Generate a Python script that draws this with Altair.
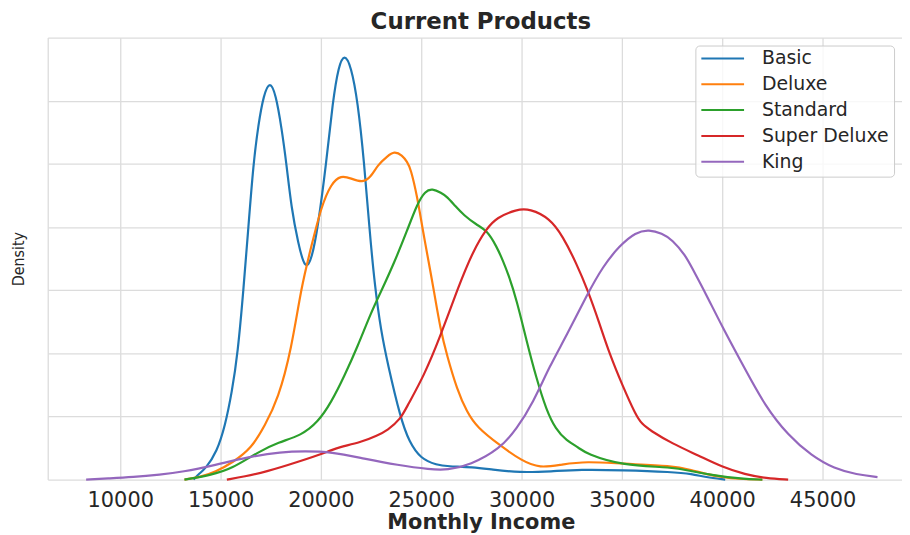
import altair as alt
import pandas as pd

products = ["Basic", "Deluxe", "Standard", "Super Deluxe", "King"]
colors = ["#1f77b4", "#ff7f0e", "#2ca02c", "#d62728", "#9467bd"]
x_ticks = [10000, 15000, 20000, 25000, 30000, 35000, 40000, 45000]
y_grid = [0, 1, 2, 3, 4, 5, 6, 7]

basic_x = [13650, 13911, 14243, 14819, 15231, 15561, 15857, 16139, 16386, 16634,
           16881, 17150, 17463, 17750, 18036, 18283, 18530, 18861, 19223, 19550,
           19851, 20263, 20594, 20880, 21172, 21500, 21832, 22163, 22410, 22690,
           23000, 23317, 23977, 24400, 24966, 25792, 26300, 27600, 28500, 29900,
           31500, 32886, 35030, 37510, 38500, 39158, 40150]
basic_y = [0, 0.09, 0.17, 0.44, 0.86, 1.38, 2.0, 3.0, 4.0, 5.0,
           5.62, 6.1, 6.32, 6.1, 5.58, 5.0, 4.3, 3.75, 3.3, 3.5,
           4.0, 5.0, 6.0, 6.55, 6.75, 6.55, 6.0, 5.0, 4.0, 3.05,
           2.35, 1.85, 0.96, 0.6, 0.33, 0.23, 0.21, 0.2, 0.16, 0.11,
           0.13, 0.16, 0.15, 0.12, 0.09, 0.04, 0]

deluxe_x = [13200, 14000, 14738, 15600, 16550, 17200, 17871, 18530, 19026, 19521,
            20016, 20510, 21005, 21500, 22079, 22492, 22822, 23317, 23648, 24050,
            24300, 24472, 24802, 25050, 25380, 25627, 25957, 26287, 26782, 27277,
            27772, 28927, 30000, 30907, 32000, 33218, 35030, 37508, 38500, 39158,
            40000, 40800, 42000]
deluxe_y = [0, 0.04, 0.12, 0.27, 0.5, 0.85, 1.28, 2.06, 3.06, 3.69,
            4.32, 4.69, 4.82, 4.77, 4.7, 4.79, 4.98, 5.12, 5.2, 5.14,
            5.03, 4.93, 4.48, 4.0, 3.43, 3.0, 2.38, 1.96, 1.43, 1.07,
            0.83, 0.54, 0.3, 0.18, 0.24, 0.29, 0.25, 0.22, 0.15, 0.09,
            0.04, 0.01, 0]

standard_x = [13200, 14500, 15561, 16881, 17871, 19026, 19851, 20510, 21171, 21832,
              22492, 23000, 23648, 24307, 24802, 25200, 25545, 26000, 26287, 26700,
              27112, 27772, 28267, 28762, 29094, 29341, 29752, 30247, 30743, 31238,
              31700, 32228, 32886, 33218, 35030, 37508, 38500, 39488, 41000, 42000]
standard_y = [0, 0.07, 0.17, 0.44, 0.59, 0.7, 0.91, 1.22, 1.64, 2.11,
              2.64, 2.98, 3.43, 3.95, 4.37, 4.57, 4.61, 4.54, 4.48, 4.33,
              4.19, 4.03, 3.95, 3.69, 3.45, 3.25, 2.85, 2.2, 1.6, 1.1,
              0.8, 0.62, 0.5, 0.41, 0.22, 0.2, 0.13, 0.07, 0.01, 0]

super_x = [15313, 16200, 17213, 18861, 20510, 20842, 21995, 22822, 23317, 23977,
           24307, 25132, 25957, 26782, 27607, 28267, 28762, 29752, 30412, 31403,
           32063, 32723, 33300, 33878, 34373, 35030, 35693, 36000, 36400, 37508,
           38829, 39984, 41139, 42200, 43286]
super_y = [0, 0.05, 0.12, 0.28, 0.46, 0.51, 0.59, 0.7, 0.78, 0.96,
           1.17, 1.64, 2.27, 3.0, 3.64, 3.98, 4.15, 4.28, 4.29, 4.14,
           3.85, 3.43, 3.0, 2.48, 2.0, 1.49, 1.02, 0.88, 0.78, 0.57,
           0.38, 0.2, 0.08, 0.02, 0]

king_x = [8300, 9500, 10609, 12000, 13085, 14738, 16386, 18036, 19191, 20510,
          22163, 23812, 25462, 26287, 27441, 28927, 29752, 30577, 31403, 32228,
          33300, 34043, 34868, 35693, 36353, 37000, 37508, 38169, 38499, 39158,
          39984, 41139, 42129, 43284, 44439, 45594, 46700, 47739]
king_y = [0, 0.02, 0.04, 0.08, 0.12, 0.23, 0.36, 0.44, 0.45, 0.44,
          0.33, 0.23, 0.16, 0.15, 0.23, 0.49, 0.8, 1.22, 1.8, 2.27,
          2.95, 3.37, 3.7, 3.92, 3.96, 3.9, 3.8, 3.55, 3.35, 2.96,
          2.43, 1.75, 1.17, 0.7, 0.38, 0.17, 0.08, 0.04]

series = [("Basic", basic_x, basic_y), ("Deluxe", deluxe_x, deluxe_y),
          ("Standard", standard_x, standard_y), ("Super Deluxe", super_x, super_y),
          ("King", king_x, king_y)]

rows = []
for name, xs, ys in series:
    for i, (xv, yv) in enumerate(zip(xs, ys)):
        rows.append({"product": name, "income": xv, "density": yv, "order": i})
df = pd.DataFrame(rows)

FONT = "DejaVu Sans"
TXT = "#262626"

chart = alt.Chart(df).mark_line(interpolate="basis", strokeWidth=2.2).encode(
    x=alt.X("income:Q",
            scale=alt.Scale(domain=[6386, 48960], nice=False, zero=False),
            axis=alt.Axis(values=x_ticks, format="d", grid=True, ticks=False, tickSize=0,
                          domain=False, labelPadding=10, labelFontSize=21,
                          labelFlush=False, labelOverlap=False,
                          title="Monthly Income", titleX=436, titleY=49,
                          titleBaseline="alphabetic", titleAlign="center",
                          titleFontSize=21, titleFontWeight="bold")),
    y=alt.Y("density:Q",
            scale=alt.Scale(domain=[0, 7], nice=False),
            axis=alt.Axis(values=y_grid, labels=False, ticks=False, tickSize=0,
                          domain=True, domainColor="#dcdcdc", domainWidth=1.3,
                          title="Density", titleX=-24, titleY=222.5, titleAngle=270,
                          titleBaseline="alphabetic", titleAlign="center",
                          titleFontSize=16, titleFontWeight="normal",
                          titleFont="DejaVu Sans Condensed, Liberation Sans Narrow, DejaVu Sans")),
    color=alt.Color("product:N",
                    scale=alt.Scale(domain=products, range=colors),
                    legend=alt.Legend(orient="none", legendX=652, legendY=8, title=None,
                                      symbolType="stroke", symbolSize=1849,
                                      symbolStrokeWidth=2, clipHeight=16, rowPadding=7,
                                      labelOffset=17, labelFontSize=19, labelFont=FONT,
                                      labelColor=TXT, padding=5,
                                      fillColor="rgba(255,255,255,0.8)",
                                      strokeColor="#cccccc", cornerRadius=4)),
    order="order:Q",
).properties(
    width=860,
    height=445,
    autosize=alt.AutoSizeParams(type="none"),
    padding={"left": 40, "top": 28, "right": 0, "bottom": 55},
    title=alt.TitleParams("Current Products", fontSize=23, fontWeight="bold", font=FONT,
                          color=TXT, offset=9, baseline="alphabetic", anchor="middle",
                          frame="group", dx=6, dy=23),
).configure_axis(
    gridColor="#dcdcdc", gridWidth=1.3, labelColor=TXT, titleColor=TXT,
    labelFont=FONT, titleFont=FONT,
).configure_view(stroke="transparent")

chart.save("out.html", embed_options={"renderer": "svg", "actions": False})
